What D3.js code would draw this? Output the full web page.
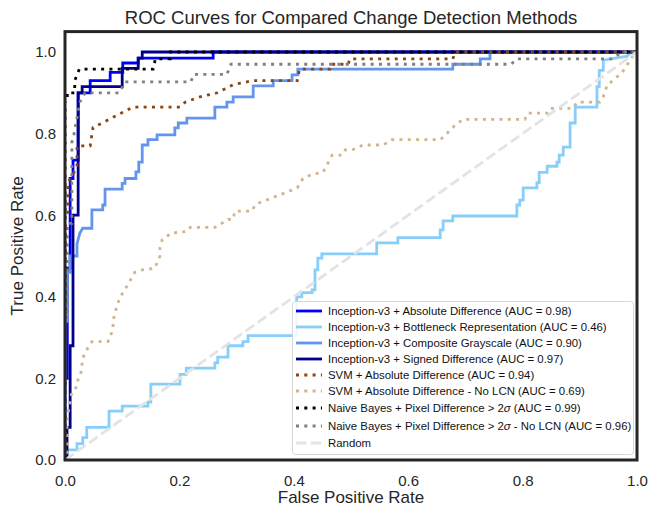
<!DOCTYPE html>
<html>
<head>
<meta charset="utf-8">
<script src="https://cdn.jsdelivr.net/npm/d3@7"></script>
<style>
  body { margin: 0; background: #fff; }
  svg { font-family: "Liberation Sans", Arial, sans-serif; }
</style>
</head>
<body>
<div id="roc"></div>
<script>
// ROC points [fpr, tpr]
const absDiff = [[0,0],[0,0.2],[0.004,0.2],[0.004,0.47],[0.009,0.47],[0.009,0.69],[0.014,0.69],[0.014,0.735],[0.023,0.735],[0.023,0.9],[0.044,0.9],[0.044,0.93],[0.079,0.93],[0.079,0.95],[0.101,0.95],[0.101,0.973],[0.128,0.973],[0.128,0.985],[0.259,0.985],[0.259,1],[1,1]];

const bottleneck = [[0,0],[0.0035,0],[0.0035,0.025],[0.021,0.025],[0.021,0.04],[0.031,0.04],[0.031,0.055],[0.038,0.055],[0.038,0.08],[0.077,0.08],[0.077,0.12],[0.1,0.12],[0.1,0.132],[0.145,0.132],[0.145,0.142],[0.15,0.142],[0.15,0.186],[0.201,0.186],[0.201,0.21],[0.212,0.21],[0.212,0.225],[0.262,0.225],[0.262,0.238],[0.267,0.238],[0.267,0.252],[0.285,0.252],[0.285,0.28],[0.311,0.28],[0.311,0.29],[0.32,0.29],[0.32,0.305],[0.405,0.305],[0.405,0.4],[0.414,0.4],[0.414,0.41],[0.432,0.41],[0.432,0.417],[0.437,0.417],[0.437,0.466],[0.442,0.466],[0.442,0.495],[0.449,0.495],[0.449,0.505],[0.545,0.505],[0.545,0.532],[0.582,0.532],[0.582,0.545],[0.656,0.545],[0.656,0.564],[0.661,0.564],[0.661,0.586],[0.678,0.586],[0.678,0.598],[0.79,0.598],[0.79,0.625],[0.795,0.625],[0.795,0.637],[0.801,0.637],[0.801,0.667],[0.825,0.667],[0.825,0.68],[0.829,0.68],[0.829,0.705],[0.843,0.705],[0.843,0.72],[0.86,0.72],[0.86,0.73],[0.864,0.73],[0.864,0.747],[0.871,0.747],[0.871,0.767],[0.883,0.767],[0.883,0.826],[0.892,0.826],[0.892,0.865],[0.93,0.865],[0.93,0.915],[0.934,0.915],[0.934,0.955],[0.941,0.955],[0.941,0.98],[0.983,0.99],[0.99,1],[1,1]];

const composite = [[0,0],[0,0.34],[0.004,0.34],[0.004,0.46],[0.009,0.46],[0.009,0.5],[0.021,0.5],[0.021,0.53],[0.026,0.556],[0.031,0.568],[0.047,0.568],[0.047,0.613],[0.066,0.613],[0.066,0.625],[0.07,0.625],[0.07,0.664],[0.1,0.664],[0.1,0.678],[0.105,0.678],[0.105,0.69],[0.124,0.69],[0.124,0.706],[0.129,0.706],[0.129,0.73],[0.135,0.73],[0.135,0.772],[0.145,0.772],[0.145,0.785],[0.161,0.785],[0.161,0.797],[0.192,0.797],[0.192,0.814],[0.198,0.814],[0.198,0.826],[0.213,0.826],[0.213,0.838],[0.262,0.838],[0.262,0.865],[0.283,0.865],[0.283,0.877],[0.294,0.877],[0.294,0.89],[0.329,0.89],[0.329,0.917],[0.364,0.917],[0.364,0.93],[0.397,0.93],[0.397,0.944],[0.407,0.944],[0.407,0.958],[0.678,0.958],[0.678,0.97],[0.726,0.97],[0.726,0.983],[0.743,0.983],[0.743,1],[1,1]];

const signedDiff = [[0,0],[0.0035,0],[0.0035,0.08],[0.009,0.08],[0.009,0.28],[0.014,0.28],[0.014,0.6],[0.023,0.6],[0.023,0.9],[0.03,0.9],[0.03,0.915],[0.1,0.915],[0.1,0.96],[0.128,0.96],[0.128,0.985],[0.135,0.985],[0.135,1],[1,1]];

const svmAbs = [[0,0],[0,0.6],[0.005,0.6],[0.005,0.68],[0.014,0.7],[0.021,0.72],[0.021,0.77],[0.044,0.77],[0.049,0.815],[0.065,0.826],[0.084,0.84],[0.119,0.865],[0.201,0.865],[0.21,0.877],[0.236,0.89],[0.266,0.9],[0.294,0.92],[0.329,0.93],[0.406,0.93],[0.41,0.958],[0.463,0.958],[0.465,0.97],[0.495,0.97],[0.498,0.983],[0.678,0.983],[0.682,1],[1,1]];

const svmNoLcn = [[0,0],[0.0035,0],[0.0035,0.1],[0.012,0.167],[0.021,0.18],[0.023,0.2],[0.028,0.215],[0.031,0.25],[0.04,0.275],[0.047,0.29],[0.075,0.29],[0.084,0.32],[0.084,0.34],[0.087,0.36],[0.094,0.39],[0.101,0.41],[0.11,0.43],[0.122,0.46],[0.131,0.465],[0.157,0.47],[0.166,0.5],[0.166,0.52],[0.17,0.54],[0.178,0.547],[0.184,0.556],[0.213,0.56],[0.219,0.57],[0.262,0.57],[0.274,0.58],[0.285,0.59],[0.294,0.59],[0.297,0.61],[0.327,0.61],[0.332,0.625],[0.339,0.63],[0.385,0.655],[0.406,0.667],[0.416,0.69],[0.432,0.7],[0.451,0.705],[0.458,0.723],[0.467,0.747],[0.484,0.747],[0.49,0.76],[0.502,0.76],[0.521,0.772],[0.556,0.772],[0.572,0.785],[0.656,0.785],[0.668,0.8],[0.673,0.81],[0.696,0.835],[0.804,0.835],[0.809,0.85],[0.843,0.85],[0.848,0.862],[0.888,0.862],[0.895,0.877],[0.935,0.877],[0.941,0.89],[0.948,0.92],[0.958,0.93],[0.974,0.95],[0.988,0.98],[0.997,1],[1,1]];

const naiveBayes = [[0,0],[0,0.88],[0.004,0.88],[0.004,0.9],[0.017,0.9],[0.017,0.93],[0.025,0.958],[0.154,0.958],[0.158,0.983],[0.184,0.983],[0.184,1],[1,1]];

const naiveBayesNoLcn = [[0,0],[0,0.35],[0.004,0.35],[0.004,0.58],[0.012,0.58],[0.012,0.78],[0.014,0.785],[0.026,0.877],[0.035,0.9],[0.095,0.9],[0.105,0.927],[0.22,0.927],[0.225,0.945],[0.283,0.945],[0.29,0.97],[0.78,0.97],[0.79,0.983],[0.955,0.983],[0.975,1],[1,1]];

const randomLine = [[0,0],[1,1]];

const labels = [
  "Inception-v3 + Absolute Difference (AUC = 0.98)",
  "Inception-v3 + Bottleneck Representation (AUC = 0.46)",
  "Inception-v3 + Composite Grayscale (AUC = 0.90)",
  "Inception-v3 + Signed Difference (AUC = 0.97)",
  "SVM + Absolute Difference (AUC = 0.94)",
  "SVM + Absolute Difference - No LCN (AUC = 0.69)",
  "Naive Bayes + Pixel Difference > 2σ (AUC = 0.99)",
  "Naive Bayes + Pixel Difference > 2σ - No LCN (AUC = 0.96)",
  "Random"
];
const xTicks = [0, 0.2, 0.4, 0.6, 0.8, 1.0];
const yTicks = [0, 0.2, 0.4, 0.6, 0.8, 1.0];

const series = [
  {data: absDiff, color: "#0000ff", dash: null},
  {data: bottleneck, color: "#87cefa", dash: null},
  {data: composite, color: "#6495ed", dash: null},
  {data: signedDiff, color: "#00008b", dash: null},
  {data: svmAbs, color: "#8b4513", dash: "dot"},
  {data: svmNoLcn, color: "#d2b48c", dash: "dot"},
  {data: naiveBayes, color: "#000000", dash: "dot"},
  {data: naiveBayesNoLcn, color: "#808080", dash: "dot"},
  {data: randomLine, color: "#e3e3e3", dash: "dash"}
];
series.forEach((s, i) => s.label = labels[i]);

const width = 650, height = 510;
const textColor = "#262626";

const svg = d3.select("#roc")
  .append("svg")
  .attr("width", width)
  .attr("height", height);

const x = d3.scaleLinear().domain([0, 1]).range([65, 637]);
const y = d3.scaleLinear().domain([0, 1.05]).range([460, 460 - 408 * 1.05]);

const dashArray = d => d === "dot" ? "3,5.3" : d === "dash" ? "10.3,4.5" : null;

svg.append("defs").append("clipPath").attr("id", "plotclip")
  .append("rect")
  .attr("x", x(0)).attr("y", y(1.05))
  .attr("width", x(1) - x(0)).attr("height", y(0) - y(1.05));

// Curves
const line = d3.line().x(d => x(d[0])).y(d => y(d[1]));
svg.append("g").attr("clip-path", "url(#plotclip)")
  .selectAll("path")
  .data(series)
  .enter()
  .append("path")
  .attr("d", d => line(d.data))
  .attr("fill", "none")
  .attr("stroke", d => d.color)
  .attr("stroke-width", 2.8)
  .attr("stroke-dasharray", d => dashArray(d.dash));

// Axes
const xAxis = svg.append("g")
  .attr("transform", `translate(0,${y(0)})`)
  .call(d3.axisBottom(x).tickValues(xTicks).tickFormat(d3.format(".1f")).tickSize(0).tickPadding(15));
const yAxis = svg.append("g")
  .attr("transform", `translate(${x(0)},0)`)
  .call(d3.axisLeft(y).tickValues(yTicks).tickFormat(d3.format(".1f")).tickSize(0).tickPadding(9));
[xAxis, yAxis].forEach(a => {
  a.select(".domain").remove();
  a.selectAll("text").style("font-size", "15px").attr("fill", textColor)
    .style("font-family", '"Liberation Sans", Arial, sans-serif');
});

// Frame
svg.append("rect")
  .attr("x", x(0)).attr("y", y(1.05))
  .attr("width", x(1) - x(0)).attr("height", y(0) - y(1.05))
  .attr("fill", "none")
  .attr("stroke", textColor)
  .attr("stroke-width", 3);

// Title and axis labels
svg.append("text")
  .attr("x", (x(0) + x(1)) / 2).attr("y", 24)
  .attr("text-anchor", "middle")
  .attr("fill", textColor)
  .style("font-size", "18.5px")
  .text("ROC Curves for Compared Change Detection Methods");

svg.append("text")
  .attr("x", (x(0) + x(1)) / 2).attr("y", 503)
  .attr("text-anchor", "middle")
  .attr("fill", textColor)
  .style("font-size", "17px")
  .text("False Positive Rate");

svg.append("text")
  .attr("transform", `translate(23,${(y(0) + y(1.05)) / 2}) rotate(-90)`)
  .attr("text-anchor", "middle")
  .attr("fill", textColor)
  .style("font-size", "17px")
  .text("True Positive Rate");

// Legend
const legend = svg.append("g");
legend.append("rect")
  .attr("x", 292.5).attr("y", 301.5)
  .attr("width", 341).attr("height", 153)
  .attr("rx", 3)
  .attr("fill", "#fff").attr("fill-opacity", 0.85)
  .attr("stroke", "#d6d6d6").attr("stroke-width", 1);

const rowY = [311, 327, 343, 359, 375, 391, 408, 426, 443];
const rows = legend.selectAll("g.row")
  .data(series)
  .enter()
  .append("g")
  .attr("class", "row")
  .attr("transform", (d, i) => `translate(0,${rowY[i]})`);

rows.append("line")
  .attr("x1", 296).attr("x2", 322)
  .attr("y1", 0).attr("y2", 0)
  .attr("stroke", d => d.color)
  .attr("stroke-width", 2.8)
  .attr("stroke-dasharray", d => dashArray(d.dash));

rows.append("text")
  .attr("x", 328).attr("y", 4)
  .attr("fill", "#111")
  .style("font-size", "11.4px")
  .each(function(d) {
    const t = d3.select(this);
    const parts = d.label.split("σ");
    parts.forEach((p, k) => {
      t.append("tspan").text(p);
      if (k < parts.length - 1) t.append("tspan").style("font-style", "italic").text("σ");
    });
  });
</script>
</body>
</html>
